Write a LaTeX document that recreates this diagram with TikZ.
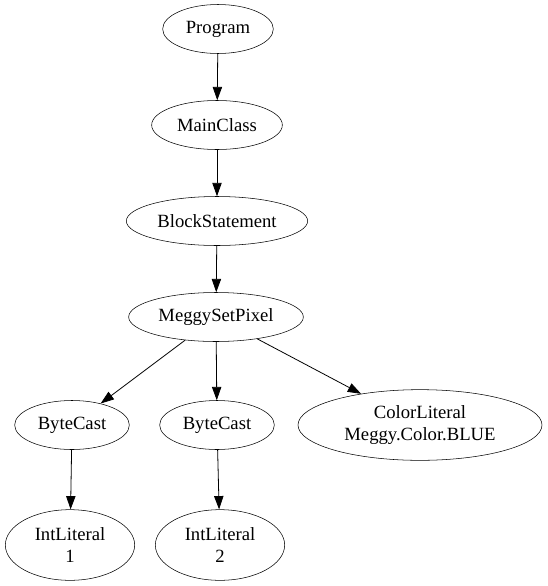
\documentclass[tikz,border=0pt]{standalone}
\usepackage{fontspec}
\setmainfont{Liberation Serif}
\usetikzlibrary{arrows.meta,shapes.geometric}

\begin{document}
\begin{tikzpicture}[
    x=0.75pt, y=-0.75pt,
    treenode/.style={
        draw,
        ellipse,
        inner sep=0pt,
        minimum height=36.75pt,
        align=center,
        font=\fontsize{14pt}{16pt}\selectfont
    },
    twoline/.style={
        treenode,
        minimum height=53pt
    },
    arrow/.style={-{Triangle[length=10pt,width=7pt]}, semithick}
]
\useasboundingbox (0,0) rectangle (547,586);

\node[treenode, minimum width=83pt] (program) at (218,29) {Program};
\node[treenode, minimum width=98pt] (mainclass) at (217,125) {MainClass};
\node[treenode, minimum width=136pt] (block) at (217,221) {BlockStatement};
\node[treenode, minimum width=131pt] (setpixel) at (216,317) {MeggySetPixel};

\node[treenode, minimum width=86pt] (cast1) at (72,425) {ByteCast};
\node[treenode, minimum width=86pt] (cast2) at (217,425) {ByteCast};
\node[twoline, minimum width=183pt] (color) at (420,425) {ColorLiteral\\Meggy.Color.BLUE};

\node[twoline, minimum width=97pt] (int1) at (70,545) {IntLiteral\\1};
\node[twoline, minimum width=97pt] (int2) at (220,545) {IntLiteral\\2};

\draw[arrow] (program) -- (mainclass);
\draw[arrow] (mainclass) -- (block);
\draw[arrow] (block) -- (setpixel);
\draw[arrow] (setpixel) -- (cast1);
\draw[arrow] (setpixel) -- (cast2);
\draw[arrow] (setpixel) -- (color);
\draw[arrow] (cast1) -- (int1);
\draw[arrow] (cast2) -- (int2);

\end{tikzpicture}
\end{document}
